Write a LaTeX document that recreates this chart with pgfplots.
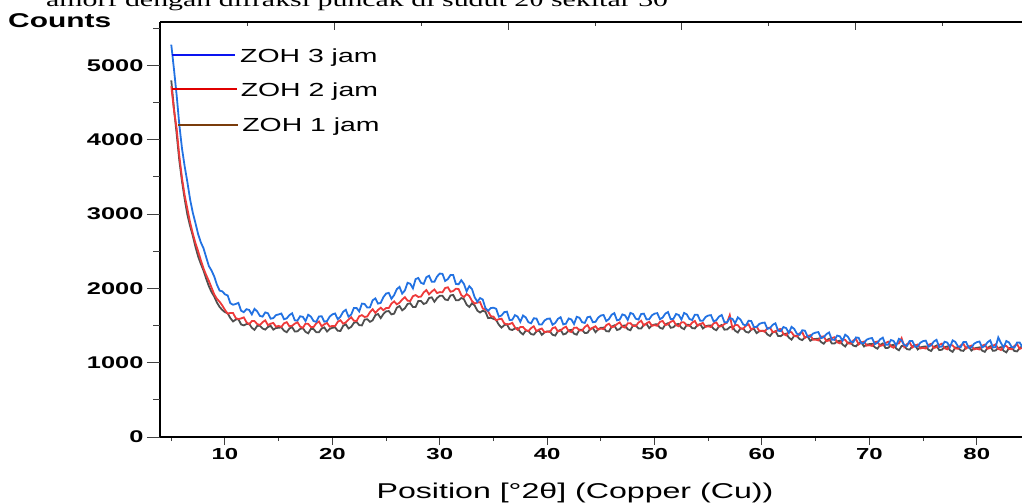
\documentclass[border=0pt]{standalone}
\usepackage{fontspec}
\setmainfont{Liberation Sans}[FakeStretch=1.5]
\newfontfamily\capfont{Liberation Serif}[FakeStretch=1.5]
\usepackage{pgfplots}
\pgfplotsset{compat=1.18}
\usepackage{pgfplotstable}
\definecolor{cblue}{HTML}{2272E2}
\definecolor{cred}{HTML}{EE3A3A}
\definecolor{cgrey}{HTML}{4F4F4F}
\definecolor{lblue}{HTML}{0A14F0}
\definecolor{lred}{HTML}{E00000}
\definecolor{lbrown}{HTML}{7A3C0C}
\definecolor{tickc}{HTML}{404040}

\pgfplotstableread{
x b r g
5.0 5280 4720 4800
5.25 4950 4400 4420
5.5 4600 4150 4080
5.75 4200 3780 3720
6.0 3880 3480 3440
6.25 3640 3250 3200
6.5 3430 3070 2990
6.75 3200 2890 2840
7.0 3020 2740 2710
7.25 2880 2610 2560
7.5 2730 2500 2430
7.75 2620 2380 2330
8.0 2540 2270 2240
8.25 2420 2180 2130
8.5 2300 2100 2030
8.75 2240 2010 1950
9.0 2160 1920 1890
9.25 2050 1860 1810
9.5 1970 1820 1750
9.75 1960 1770 1710
10.0 1920 1710 1680
10.25 1905 1660 1665
10.5 1800 1670 1600
10.75 1780 1670 1555
11.0 1790 1600 1580
11.25 1805 1587 1587
11.5 1700 1595 1515
11.75 1680 1610 1502
12.0 1720 1545 1520
12.25 1710 1517 1525
12.5 1650 1560 1470
12.75 1725 1560 1442
13.0 1690 1520 1495
13.25 1630 1507 1497
13.5 1620 1545 1460
13.75 1677 1570 1445
14.0 1665 1505 1480
14.25 1592 1525 1497
14.5 1600 1535 1445
14.75 1640 1485 1467
15.0 1650 1495 1470
15.25 1662 1482 1475
15.5 1585 1530 1430
15.75 1597 1545 1410
16.0 1640 1490 1460
16.25 1665 1497 1480
16.5 1570 1525 1420
16.75 1567 1545 1422
17.0 1625 1485 1455
17.25 1617 1470 1465
17.5 1560 1525 1415
17.75 1645 1522 1395
18.0 1620 1480 1455
18.25 1560 1480 1452
18.5 1550 1530 1410
18.75 1622 1555 1410
19.0 1625 1490 1460
19.25 1552 1517 1475
19.5 1560 1535 1420
19.75 1620 1485 1455
20.0 1650 1495 1470
20.25 1662 1492 1475
20.5 1585 1550 1430
20.75 1620 1572 1427
21.0 1685 1525 1495
21.25 1712 1542 1517
21.5 1620 1580 1460
21.75 1647 1612 1482
22.0 1735 1565 1535
22.25 1737 1560 1550
22.5 1690 1625 1505
22.75 1795 1640 1502
23.0 1790 1615 1580
23.25 1742 1622 1585
23.5 1745 1680 1550
23.75 1840 1720 1570
24.0 1865 1670 1640
24.25 1795 1710 1655
24.5 1805 1740 1600
24.75 1882 1707 1655
25.0 1930 1735 1690
25.25 1940 1735 1695
25.5 1860 1795 1650
25.75 1910 1825 1660
26.0 1990 1785 1740
26.25 2020 1807 1762
26.5 1930 1850 1705
26.75 1972 1882 1732
27.0 2075 1835 1790
27.25 2062 1830 1800
27.5 2000 1895 1750
27.75 2125 1910 1750
28.0 2140 1885 1830
28.25 2075 1890 1830
28.5 2060 1945 1790
28.75 2150 1977 1805
29.0 2170 1920 1870
29.25 2090 1957 1880
29.5 2090 1985 1820
29.75 2160 1937 1870
30.0 2200 1950 1900
30.25 2195 1947 1900
30.5 2100 2005 1850
30.75 2125 2015 1842
31.0 2180 1955 1905
31.25 2180 1965 1912
31.5 2060 1995 1840
31.75 2055 1992 1840
32.0 2110 1910 1870
32.25 2060 1882 1855
32.5 1960 1925 1780
32.75 2030 1897 1750
33.0 1990 1830 1800
33.25 1880 1795 1770
33.5 1820 1810 1700
33.75 1870 1815 1675
34.0 1850 1730 1700
34.25 1735 1715 1685
34.5 1700 1690 1600
34.75 1735 1625 1605
35.0 1740 1620 1590
35.25 1725 1572 1575
35.5 1620 1585 1510
35.75 1635 1592 1472
36.0 1680 1530 1505
36.25 1687 1515 1517
36.5 1575 1520 1450
36.75 1577 1537 1440
37.0 1640 1475 1460
37.25 1620 1442 1465
37.5 1550 1480 1410
37.75 1635 1480 1380
38.0 1610 1440 1430
38.25 1545 1427 1427
38.5 1530 1465 1385
38.75 1597 1490 1377
39.0 1595 1425 1420
39.25 1515 1447 1432
39.5 1515 1460 1375
39.75 1567 1410 1407
40.0 1590 1420 1420
40.25 1595 1412 1422
40.5 1510 1465 1375
40.75 1535 1477 1365
41.0 1590 1420 1425
41.25 1612 1432 1442
41.5 1515 1465 1380
41.75 1525 1485 1392
42.0 1595 1425 1435
42.25 1582 1412 1442
42.5 1520 1470 1390
42.75 1617 1472 1377
43.0 1605 1435 1445
43.25 1545 1432 1442
43.5 1535 1480 1400
43.75 1612 1507 1402
44.0 1620 1445 1455
44.25 1545 1472 1467
44.5 1550 1490 1410
44.75 1607 1445 1450
45.0 1635 1460 1470
45.25 1642 1452 1472
45.5 1560 1505 1425
45.75 1587 1525 1420
46.0 1645 1475 1485
46.25 1667 1487 1502
46.5 1570 1520 1440
46.75 1580 1542 1452
47.0 1650 1485 1495
47.25 1637 1472 1502
47.5 1575 1530 1450
47.75 1670 1532 1437
48.0 1655 1495 1505
48.25 1592 1492 1502
48.5 1580 1540 1460
48.75 1655 1565 1460
49.0 1660 1500 1510
49.25 1582 1530 1522
49.5 1585 1550 1465
49.75 1637 1497 1500
50.0 1660 1505 1515
50.25 1667 1497 1517
50.5 1585 1550 1470
50.75 1607 1562 1457
51.0 1660 1505 1515
51.25 1682 1517 1532
51.5 1585 1550 1470
51.75 1590 1567 1477
52.0 1655 1505 1515
52.25 1642 1490 1522
52.5 1580 1545 1470
52.75 1670 1542 1451
53.0 1650 1500 1512
53.25 1587 1495 1508
53.5 1575 1540 1465
53.75 1645 1562 1461
54.0 1645 1495 1508
54.25 1565 1520 1519
54.5 1565 1535 1460
54.75 1615 1482 1490
55.0 1635 1490 1500
55.25 1640 1480 1502
55.5 1555 1530 1455
55.75 1572 1542 1437
56.0 1620 1485 1490
56.25 1642 1492 1507
56.5 1545 1520 1445
56.75 1542 1540 1446
57.0 1600 1640 1478
57.25 1590 1460 1484
57.5 1530 1510 1430
57.75 1610 1505 1406
58.0 1580 1460 1462
58.25 1515 1455 1458
58.5 1500 1500 1415
58.75 1565 1517 1405
59.0 1560 1445 1445
59.25 1480 1470 1456
59.5 1480 1485 1398
59.75 1522 1427 1423
60.0 1535 1430 1428
60.25 1540 1417 1429
60.5 1455 1465 1380
60.75 1467 1472 1359
61.0 1510 1410 1408
61.25 1530 1417 1424
61.5 1430 1445 1360
61.75 1425 1455 1357
62.0 1480 1385 1385
62.25 1465 1367 1391
62.5 1400 1420 1338
62.75 1482 1410 1310
63.0 1455 1360 1362
63.25 1390 1352 1360
63.5 1375 1395 1318
63.75 1437 1410 1304
64.0 1430 1335 1340
64.25 1350 1357 1352
64.5 1350 1370 1295
64.75 1392 1310 1317
65.0 1405 1310 1320
65.25 1412 1300 1324
65.5 1330 1350 1278
65.75 1342 1355 1255
66.0 1385 1290 1302
66.25 1407 1300 1321
66.5 1310 1330 1260
66.75 1307 1342 1258
67.0 1365 1275 1287
67.25 1355 1260 1296
67.5 1295 1315 1245
67.75 1377 1307 1218
68.0 1350 1260 1272
68.25 1287 1255 1271
68.5 1275 1300 1230
68.75 1340 1317 1220
69.0 1335 1245 1260
69.25 1260 1270 1274
69.5 1265 1285 1218
69.75 1310 1230 1244
70.0 1325 1235 1250
70.25 1332 1225 1254
70.5 1250 1275 1208
70.75 1267 1285 1189
71.0 1315 1225 1240
71.25 1337 1235 1259
71.5 1240 1265 1198
71.75 1242 1282 1200
72.0 1305 1220 1232
72.25 1293 1202 1241
72.5 1232 1255 1190
72.75 1321 1260 1167
73.0 1300 1330 1225
73.25 1237 1210 1223
73.5 1225 1250 1182
73.75 1293 1272 1176
74.0 1292 1205 1220
74.25 1216 1230 1234
74.5 1220 1245 1178
74.75 1270 1192 1206
75.0 1290 1200 1215
75.25 1297 1190 1219
75.5 1215 1240 1174
75.75 1235 1254 1158
76.0 1285 1198 1212
76.25 1308 1208 1231
76.5 1212 1238 1170
76.75 1217 1256 1174
77.0 1282 1195 1208
77.25 1271 1180 1218
77.5 1210 1235 1168
77.75 1300 1233 1146
78.0 1280 1192 1205
78.25 1219 1187 1205
78.5 1208 1232 1165
78.75 1278 1256 1159
79.0 1278 1190 1203
79.25 1201 1215 1218
79.5 1205 1230 1163
79.75 1255 1179 1191
80.0 1276 1188 1200
80.25 1285 1178 1206
80.5 1205 1228 1162
80.75 1225 1243 1146
81.0 1275 1188 1200
81.25 1300 1198 1220
81.5 1205 1228 1160
81.75 1210 1247 1164
82.0 1340 1186 1198
82.25 1265 1171 1209
82.5 1203 1226 1160
82.75 1292 1226 1139
83.0 1272 1186 1198
83.25 1212 1181 1198
83.5 1202 1226 1158
83.75 1271 1250 1152
84.0 1270 1185 1197
84.25 1210 1202 1223
84.5 1230 1210 1180
}\xrd

\begin{document}
\begin{tikzpicture}
\useasboundingbox (0,0) rectangle (1022bp,504bp);
\node[anchor=base west, font=\capfont\fontsize{20}{20}\selectfont, inner sep=0] at (46bp,497bp) {amorf dengan difraksi puncak di sudut 2θ sekitar 30};
\node[anchor=base west, font=\fontsize{20}{20}\selectfont\bfseries, inner sep=0] at (8bp,476bp) {Counts};

% main axis: data, bottom x ticks
\begin{axis}[
  at={(160bp,67bp)}, anchor=south west, scale only axis,
  width=862bp, height=415bp,
  xmin=3.95, xmax=84.21, ymin=0, ymax=5585,
  axis x line*=bottom, axis y line*=left,
  x axis line style={-, line width=1.1pt, black},
  y axis line style={-, line width=1.1pt, black},
  tick align=outside, tick pos=left,
  xtick={10,20,...,80}, minor xtick={5,15,...,85},
  ytick=\empty,
  major tick length=8bp, minor tick length=4bp,
  tick style={line width=1pt, tickc},
  /pgf/number format/assume math mode=true,
  xticklabel style={font=\fontsize{16}{16}\selectfont\bfseries},
  xlabel={Position [°2θ] (Copper (Cu))},
  xlabel style={at={(axis description cs:0.4814,-0.147)}, anchor=base,
    font=\fontsize{21.5}{21.5}\selectfont, inner sep=0},
]
\addplot[cgrey, line width=1.8pt, forget plot] table[x=x, y=g] {\xrd};
\addplot[cred, line width=1.8pt, forget plot] table[x=x, y=r] {\xrd};
\addplot[cblue, line width=1.8pt, forget plot] table[x=x, y=b] {\xrd};
% legend-like keys
\addplot[lblue, line width=2pt, forget plot] coordinates {(5.07,5141) (10.93,5141)};
\addplot[lred, line width=2pt, forget plot] coordinates {(5.07,4684) (11.1,4684)};
\addplot[lbrown, line width=2pt, forget plot] coordinates {(5.6,4199) (11.2,4199)};
\node[anchor=base west, inner sep=0, font=\fontsize{19}{19}\selectfont] at (axis cs:11.4,5034) {ZOH 3 jam};
\node[anchor=base west, inner sep=0, font=\fontsize{19}{19}\selectfont] at (axis cs:11.45,4583) {ZOH 2 jam};
\node[anchor=base west, inner sep=0, font=\fontsize{19}{19}\selectfont] at (axis cs:11.6,4105) {ZOH 1 jam};
\end{axis}

% left y ticks
\begin{axis}[
  at={(160bp,67bp)}, anchor=south west, scale only axis,
  width=862bp, height=415bp,
  xmin=3.95, xmax=84.21, ymin=0, ymax=5585,
  hide x axis,
  axis y line*=left, y axis line style={draw=none},
  tick align=outside, ytick pos=left,
  ytick={0,1000,...,5000}, minor ytick={500,1500,...,5500},
  major tick length=13bp, minor tick length=6.5bp,
  tick style={line width=1pt, tickc},
  /pgf/number format/assume math mode=true,
  /pgf/number format/set thousands separator={},
  yticklabel style={font=\fontsize{17}{17}\selectfont\bfseries},
]
\end{axis}

% top and right frame ticks
\begin{axis}[
  at={(160bp,67bp)}, anchor=south west, scale only axis,
  width=862bp, height=415bp,
  xmin=3.95, xmax=84.21, ymin=0, ymax=5585,
  axis x line*=top, axis y line*=right,
  x axis line style={-, line width=1.1pt, black},
  y axis line style={draw=none},
  tick align=inside, tick pos=right,
  xtick={20.24,36.4,52.55,68.7}, minor xtick={12.14,28.3,44.5,60.6,76.8},
  ytick=\empty, minor ytick={1130,2234,3351,4468},
  xticklabels={}, yticklabels={},
  major tick length=8bp, minor tick length=4bp,
  tick style={line width=1pt, tickc},
]
\end{axis}
\end{tikzpicture}
\end{document}
